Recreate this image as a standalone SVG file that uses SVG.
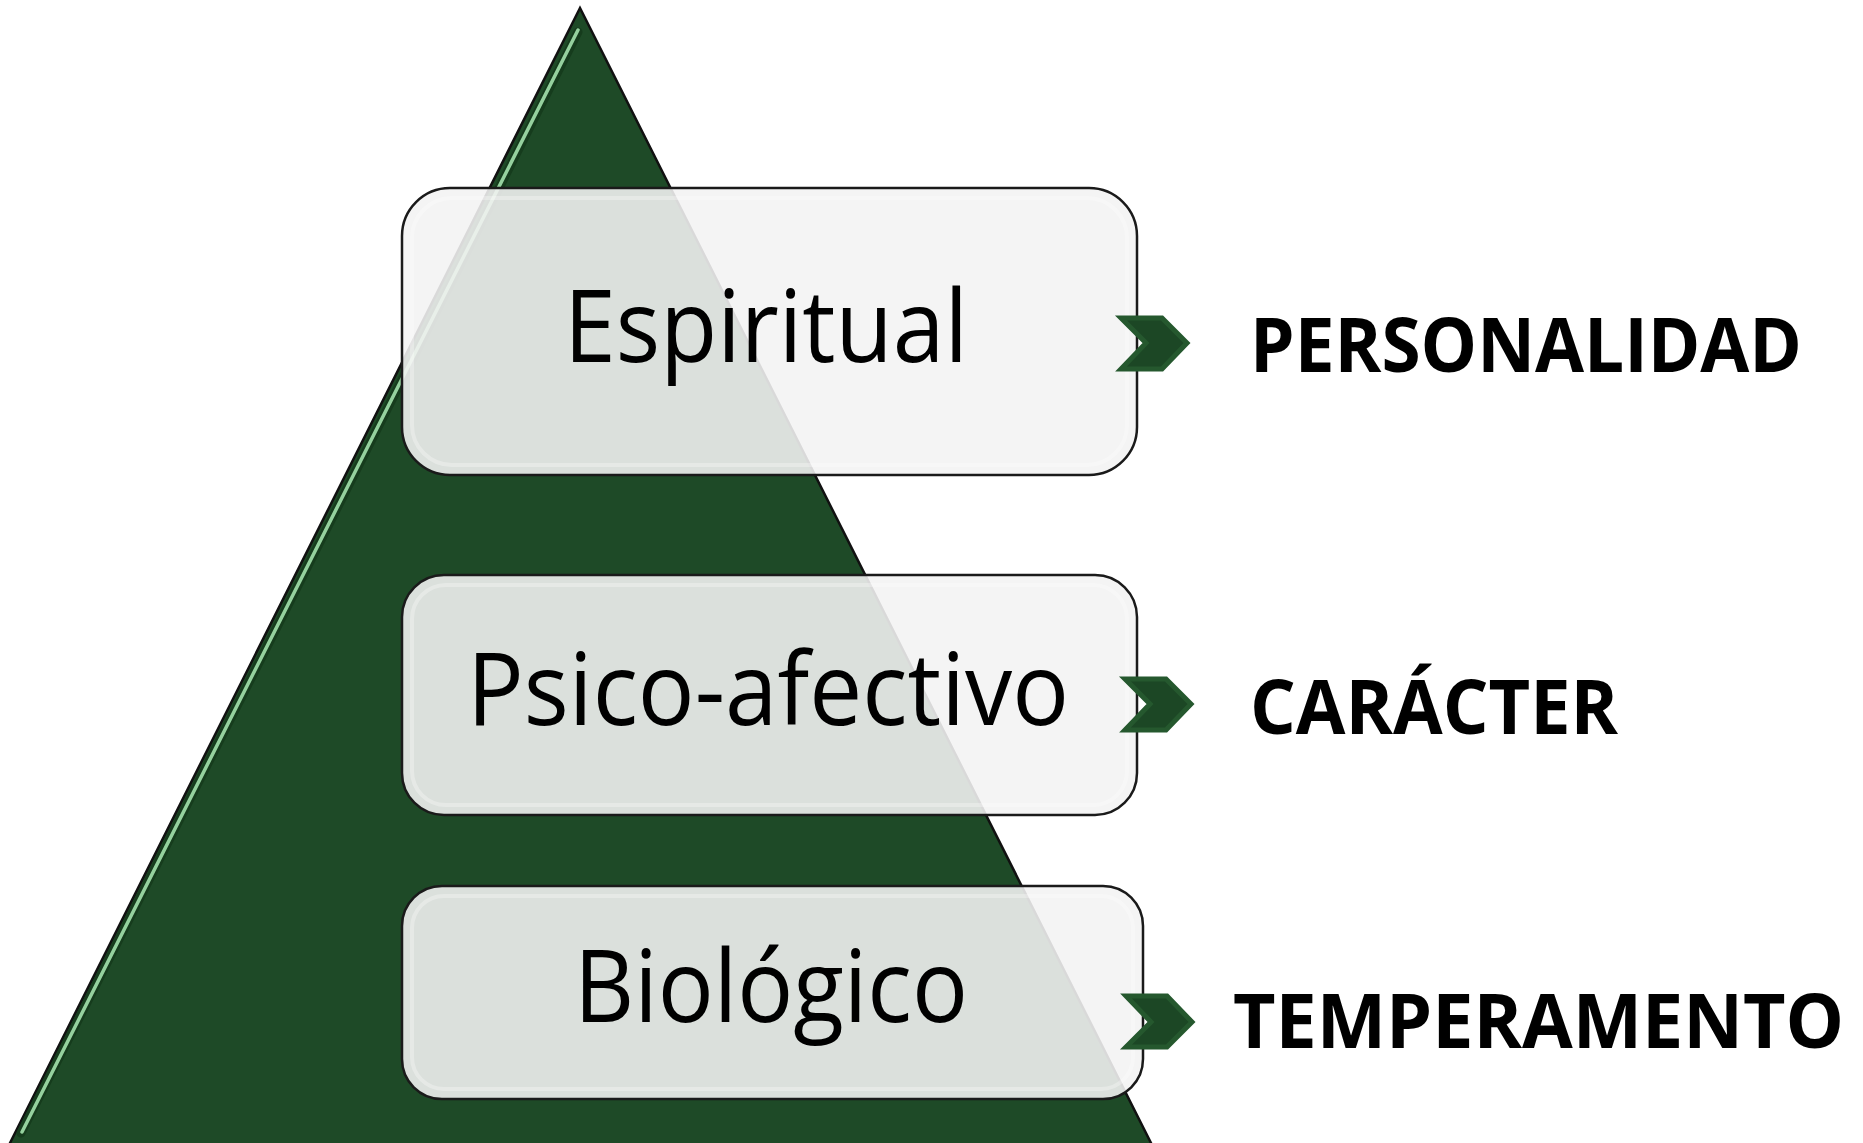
<svg xmlns="http://www.w3.org/2000/svg" width="1863" height="1143" viewBox="0 0 1863 1143">
<defs>
<style>
.box{fill:#f3f3f3;fill-opacity:0.89;stroke:#1a1a1a;stroke-width:2.5}
.gloss{fill:none;stroke:#ffffff;stroke-width:4;stroke-opacity:0.3}
.lbl{font-family:"Open Sans","Liberation Sans",sans-serif;font-size:100px;fill:#000}
.out{font-family:"Open Sans","Liberation Sans",sans-serif;font-weight:bold;font-size:76px;fill:#000}
.chev{fill:#1c4725;stroke:#25582e;stroke-width:5;stroke-linejoin:miter}
</style>
</defs>
<rect width="1863" height="1143" fill="#ffffff"/>
<g id="pyramid">
<polygon points="580,8 9,1145 1152,1145" fill="#1e4a27" stroke="#111" stroke-width="2.5"/>
<line x1="578" y1="32" x2="21" y2="1133" stroke="#163c1d" stroke-width="9" stroke-linecap="round"/>
<line x1="578" y1="30" x2="22" y2="1132" stroke="#95d19e" stroke-width="3.5" stroke-linecap="round"/>
</g>
<g id="node-espiritual">
<rect class="box" x="402" y="188" width="735" height="287" rx="48"/>
<rect class="gloss" x="412" y="198" width="715" height="267" rx="40"/>
<text class="lbl" x="564" y="362" textLength="404" lengthAdjust="spacingAndGlyphs">Espiritual</text>
</g>
<g id="node-psico">
<rect class="box" x="402" y="575" width="735" height="240" rx="42"/>
<rect class="gloss" x="412" y="585" width="715" height="220" rx="34"/>
<text class="lbl" x="467" y="725" textLength="602" lengthAdjust="spacingAndGlyphs">Psico-afectivo</text>
</g>
<g id="node-biologico">
<rect class="box" x="402" y="886" width="741" height="213" rx="40"/>
<rect class="gloss" x="412" y="896" width="721" height="193" rx="32"/>
<text class="lbl" x="574" y="1022" textLength="394" lengthAdjust="spacingAndGlyphs">Biológico</text>
</g>
<g id="connectors">
<polygon class="chev" points="1121,318 1162,318 1187,343 1162,369 1121,369 1146,343"/>
<polygon class="chev" points="1125,679 1166,679 1191,704 1166,730 1125,730 1150,704"/>
<polygon class="chev" points="1126,996 1167,996 1192,1022 1167,1047 1126,1047 1151,1022"/>
</g>
<g id="label-personalidad">
<text class="out" x="1250" y="372" textLength="552" lengthAdjust="spacingAndGlyphs">PERSONALIDAD</text>
</g>
<g id="label-caracter">
<text class="out" x="1250" y="734" textLength="368" lengthAdjust="spacingAndGlyphs">CARÁCTER</text>
</g>
<g id="label-temperamento">
<text class="out" x="1233" y="1048" textLength="611" lengthAdjust="spacingAndGlyphs">TEMPERAMENTO</text>
</g>
</svg>
